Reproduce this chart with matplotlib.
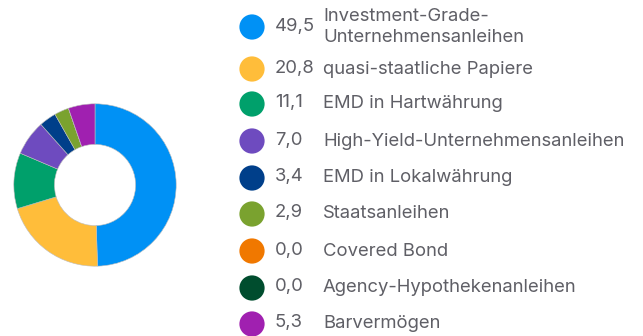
import matplotlib.pyplot as plt

plt.rcParams['font.family'] = ['Inter', 'DejaVu Sans']

labels = ['Investment-Grade-\nUnternehmensanleihen', 'quasi-staatliche Papiere',
          'EMD in Hartwährung', 'High-Yield-Unternehmensanleihen',
          'EMD in Lokalwährung', 'Staatsanleihen', 'Covered Bond',
          'Agency-Hypothekenanleihen', 'Barvermögen']
values = [49.5, 20.8, 11.1, 7.0, 3.4, 2.9, 0.0, 0.0, 5.3]
colors = ['#0091f5', '#ffbd3a', '#00a06b', '#6e4bbf', '#003f8a',
          '#7aa22f', '#f07800', '#004d2e', '#a020b0']

W, H = 643, 336
fig = plt.figure(figsize=(W / 100, H / 100), dpi=100)

# donut
cx, cy, r = 95, 185, 82
ax = fig.add_axes([(cx - r) / W, (H - cy - r) / H, 2 * r / W, 2 * r / H])
ax.pie(values, colors=colors, startangle=90, counterclock=False,
       radius=1, wedgeprops=dict(width=0.5, edgecolor='#bdbdbd', linewidth=0.4))
ax.set_aspect('equal')
ax.set_xlim(-1.01, 1.01)
ax.set_ylim(-1.01, 1.01)
ax.axis('off')

# legend drawn in pixel coordinates
lg = fig.add_axes([0, 0, 1, 1])
lg.set_xlim(0, W)
lg.set_ylim(H, 0)
lg.axis('off')

rows_y = [27, 69, 104, 141, 178, 214, 251, 288, 324]
text_color = '#5f5f66'
for y, lab, val, col in zip(rows_y, labels, values, colors):
    lg.scatter([252], [y], s=330, color=col, edgecolor='none')
    lg.text(275, y - 1, f'{val:.1f}'.replace('.', ','), fontsize=13.3,
            color=text_color, va='center', ha='left')
    lg.text(323, y, lab, fontsize=13.3, color=text_color, va='center',
            ha='left', linespacing=1.35)

fig.savefig('out.png', dpi=100)
